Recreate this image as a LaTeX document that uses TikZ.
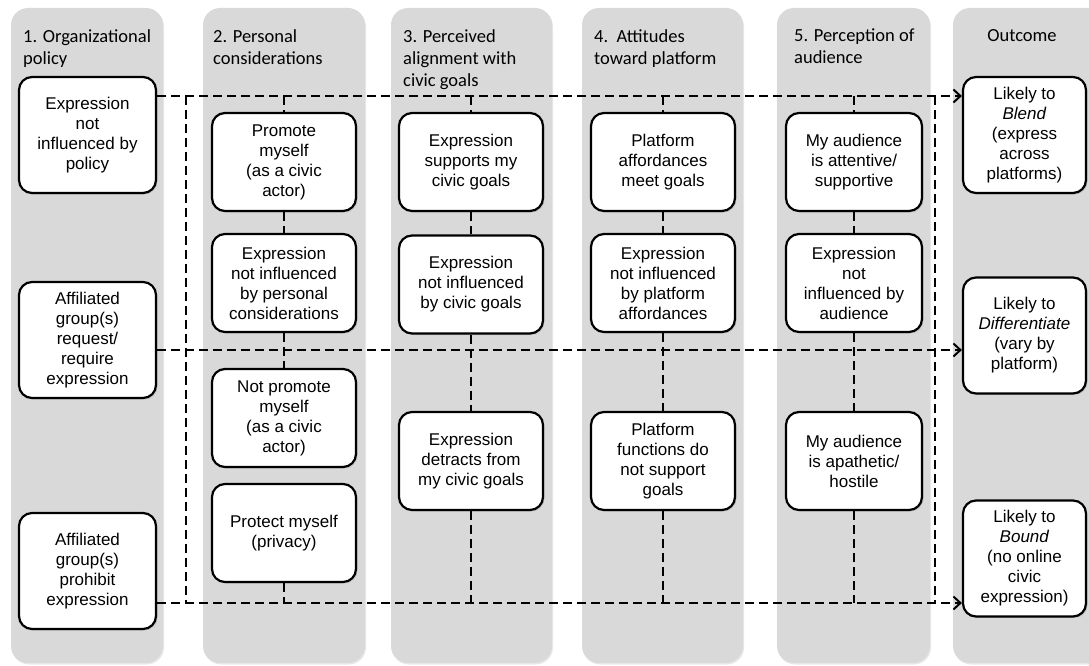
\documentclass[tikz,border=0pt]{standalone}
\usepackage{fontspec}
\setmainfont{Liberation Sans}
\newfontfamily\headfont{Carlito}
\usetikzlibrary{
    arrows.meta,
    shapes,
    positioning,
    shadows
}
\definecolor{lanegray}{HTML}{D9D9D9}
\tikzset{%
    >={Straight Barb[length=7pt,width=13pt]},
    % Specifications for style of nodes:
    lane/.style = {
        fill=lanegray, rounded corners=17pt,
        drop shadow={opacity=0.18, shadow xshift=1pt, shadow yshift=-1.5pt}
    },
    head/.style = {
        anchor=north west, inner sep=0pt, align=left,
        font=\headfont\fontsize{18.5}{22}\selectfont
    },
    base/.style = {
        rectangle, rounded corners=13pt, draw=black, line width=2.2pt,
        minimum width=144pt, minimum height=98pt, inner sep=1pt,
        text centered, font=\fontsize{17}{20}\selectfont,
        fill=white, align=center,
        drop shadow={opacity=0.25, shadow xshift=1.5pt, shadow yshift=-1.5pt}
    },
    policy/.style = {base, minimum width=137pt, minimum height=116pt},
    audience/.style = {base, minimum width=136pt},
    outcome/.style = {base, minimum width=123pt, minimum height=116pt},
    link/.style = {line width=2pt, dash pattern=on 9pt off 5pt}
}

\begin{document}
\begin{tikzpicture}[x=1pt,y=-1pt]
\useasboundingbox (0,0) rectangle (1089,666);
% Grey lanes
\foreach \xa/\xb in {11/163, 203/365, 391/552, 582/743, 777/930, 953/1110}
    \path[lane] (\xa,8) rectangle (\xb,663);
% Lane headings
\node (h1) [head] at (23,29) {1. Organizational\\policy};
\node (h2) [head] at (213,29) {2. Personal\\considerations};
\node (h3) [head] at (403,29) {3. Perceived\\alignment with\\civic goals};
\node (h4) [head] at (594,29) {4.\ \ Attitudes\\toward platform};
\node (h5) [head] at (794,29) {5. Perception of\\audience};
\node (h6) [head, anchor=north] at (1022,29) {Outcome};
% Specification of nodes (position, etc.)
\node (pol1)  [policy] at (87.5,135) {Expression\\not\\influenced by\\policy};
\node (pol2)  [policy] at (87.5,340) {Affiliated\\group(s)\\request/\\require\\expression};
\node (pol3)  [policy] at (87.5,571) {Affiliated\\group(s)\\prohibit\\expression};
\node (pers1) [base] at (284,162) {Promote\\myself\\(as a civic\\actor)};
\node (pers2) [base] at (284,283) {Expression\\not influenced\\by personal\\considerations};
\node (pers3) [base] at (284,418) {Not promote\\myself\\(as a civic\\actor)};
\node (pers4) [base] at (284,533) {Protect myself\\(privacy)};
\node (goal1) [base] at (471,162) {Expression\\supports my\\civic goals};
\node (goal2) [base] at (471,284.5) {Expression\\not influenced\\by civic goals};
\node (goal3) [base] at (471,461) {Expression\\detracts from\\my civic goals};
\node (plat1) [base] at (663,162) {Platform\\affordances\\meet goals};
\node (plat2) [base] at (663,283) {Expression\\not influenced\\by platform\\affordances};
\node (plat3) [base] at (663,461) {Platform\\functions do\\not support\\goals};
\node (aud1)  [audience] at (854,162) {My audience\\is attentive/\\supportive};
\node (aud2)  [audience] at (854,283) {Expression\\not\\influenced by\\audience};
\node (aud3)  [audience] at (854,461) {My audience\\is apathetic/\\hostile};
\node (out1)  [outcome] at (1024.5,135) {Likely to\\\textit{Blend}\\(express\\across\\platforms)};
\node (out2)  [outcome] at (1024.5,335.5) {Likely to\\\textit{Differentiate}\\(vary by\\platform)};
\node (out3)  [outcome] at (1024.5,558.5) {Likely to\\\textit{Bound}\\(no online\\civic\\expression)};
% Corners of the two ladders
\coordinate (la) at (186,96);
\coordinate (lb) at (186,350);
\coordinate (lc) at (186,603);
\coordinate (ra) at (935,96);
\coordinate (rc) at (935,603);
% Specification of paths
\draw[link,->] (pol1.east |- la) -- (out1.west |- la);
\draw[link,->] (pol2.east |- lb) -- (out2.west |- lb);
\draw[link,->] (pol3.east |- lc) -- (out3.west |- lc);
\draw[link] (la) -- (lc);
\draw[link] (ra) -- (rc);
\draw[link] (pers1.north |- la) -- (pers1.north);
\draw[link] (pers1) -- (pers2);
\draw[link] (pers2) -- (pers3);
\draw[link] (pers4.south) -- (pers4.south |- lc);
\draw[link] (goal1.north |- la) -- (goal1.north);
\draw[link] (goal1) -- (goal2);
\draw[link] (goal2) -- (goal3);
\draw[link] (goal3.south) -- (goal3.south |- lc);
\draw[link] (plat1.north |- la) -- (plat1.north);
\draw[link] (plat1) -- (plat2);
\draw[link] (plat2) -- (plat3);
\draw[link] (plat3.south) -- (plat3.south |- lc);
\draw[link] (aud1.north |- la) -- (aud1.north);
\draw[link] (aud1) -- (aud2);
\draw[link] (aud2) -- (aud3);
\draw[link] (aud3.south) -- (aud3.south |- lc);
\end{tikzpicture}
\end{document}
